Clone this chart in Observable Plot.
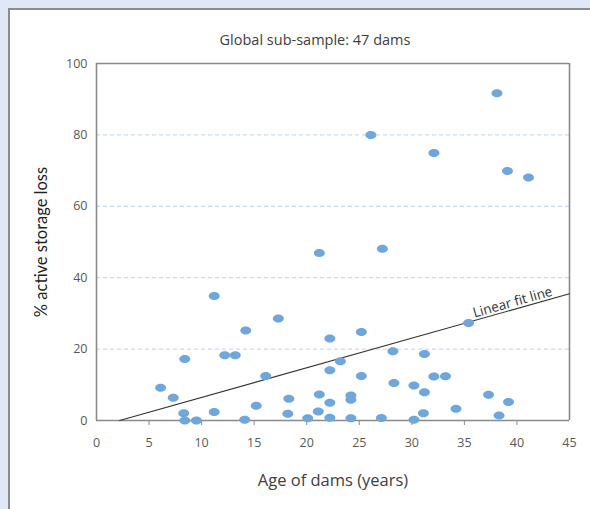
<!DOCTYPE html>
<html>
<head>
<meta charset="utf-8">
<script src="https://cdn.jsdelivr.net/npm/d3@7"></script>
<script src="https://cdn.jsdelivr.net/npm/@observablehq/plot@0.6"></script>
<style>
  html, body { margin: 0; padding: 0; width: 590px; height: 509px; overflow: hidden; background: #dfe8f4; }
  #frame { position: absolute; left: 8px; top: 8px; width: 600px; height: 520px; background: #fff;
           border-left: 2px solid #8c8c8c; border-top: 2px solid #8c8c8c; }
  #title { position: absolute; left: 0; width: 630px; top: 30px; text-align: center;
           font: 14.5px "Open Sans", sans-serif; color: #404040; }
  #chart { position: absolute; left: 0; top: 50px; }
</style>
</head>
<body>
<div id="frame"></div>
<div id="title">Global sub-sample: 47 dams</div>
<div id="chart"></div>
<script>
// Data
const ages = [
  11.2, 14.2, 12.2, 13.2, 8.4, 6.1, 7.3, 8.3, 8.4, 9.5, 11.2, 14.1, 15.2,
  17.3, 25.2, 22.2, 28.2, 23.2, 22.2, 16.1, 25.2, 28.3, 18.3, 21.2, 22.2, 24.2, 24.2, 18.2, 21.1, 20.1, 22.2, 24.2, 27.1,
  35.4, 31.2, 32.1, 33.2, 30.2, 31.2, 37.3, 39.2, 34.2, 31.1, 38.3, 30.2,
  38.1, 26.1, 32.1, 39.1, 41.1, 21.2, 27.2
];
const losses = [
  34.9, 25.2, 18.3, 18.3, 17.2, 9.2, 6.4, 2.0, 0.0, 0.0, 2.4, 0.2, 4.1,
  28.6, 24.8, 23.0, 19.4, 16.6, 14.1, 12.5, 12.5, 10.5, 6.1, 7.3, 5.0, 7.0, 5.8, 1.9, 2.5, 0.6, 0.8, 0.6, 0.7,
  27.3, 18.6, 12.3, 12.4, 9.8, 7.9, 7.2, 5.2, 3.3, 2.0, 1.4, 0.2,
  91.7, 80.0, 74.9, 69.9, 68.1, 46.9, 48.1
];
const fitAges = [2.2, 45];
const fitLosses = [0, 35.5];
const fitLabelAge = 39.7;
const xTicks = [0, 5, 10, 15, 20, 25, 30, 35, 40, 45];
const xTickMarks = [5, 10, 15, 20, 25, 30, 35, 40];
const yTicks = [0, 20, 40, 60, 80, 100];
const gridLines = [20, 40, 60, 80];
const xDomain = [0, 45];
const yDomain = [0, 100];

const points = ages.map((a, i) => ({age: a, loss: losses[i]}));
const fit = fitAges.map((a, i) => ({age: a, loss: fitLosses[i]}));
const slope = (fitLosses[1] - fitLosses[0]) / (fitAges[1] - fitAges[0]);
const labelPt = [{age: fitLabelAge, loss: fitLosses[0] + slope * (fitLabelAge - fitAges[0])}];

const W = 590, H = 459, mL = 96, mR = 21, mT = 13, mB = 89;
const pxSlope = slope * ((H - mT - mB) / (yDomain[1] - yDomain[0])) / ((W - mL - mR) / (xDomain[1] - xDomain[0]));
const angle = -Math.atan(pxSlope) * 180 / Math.PI;

const ellipse = {
  draw(ctx) {
    const rx = 5.5, ry = 4, kx = rx * 0.5523, ky = ry * 0.5523;
    ctx.moveTo(rx, 0);
    ctx.bezierCurveTo(rx, ky, kx, ry, 0, ry);
    ctx.bezierCurveTo(-kx, ry, -rx, ky, -rx, 0);
    ctx.bezierCurveTo(-rx, -ky, -kx, -ry, 0, -ry);
    ctx.bezierCurveTo(kx, -ry, rx, -ky, rx, 0);
    ctx.closePath();
  }
};

const frameColor = "#8a8a8a";
const chart = Plot.plot({
  width: W, height: H,
  marginLeft: mL, marginRight: mR, marginTop: mT, marginBottom: mB,
  style: {background: "transparent", fontFamily: "'Open Sans', sans-serif", fontSize: "12.5px", color: "#595959"},
  x: {domain: xDomain},
  y: {domain: yDomain},
  marks: [
    Plot.ruleY(gridLines, {stroke: "#bcd3ee", strokeDasharray: "4,3", strokeWidth: 1}),
    Plot.axisY({ticks: yTicks, tickSize: 0, tickPadding: 9, label: null}),
    Plot.axisY({ticks: [], label: "% active storage loss", labelAnchor: "center", labelArrow: false, labelOffset: 61,
                fontFamily: "Lato, sans-serif", fontSize: 16.5, color: "#222"}),
    Plot.axisX({ticks: xTickMarks, tickSize: 5, text: null, label: null, stroke: frameColor}),
    Plot.axisX({ticks: xTicks, tickSize: 0, tickPadding: 18, label: null}),
    Plot.axisX({ticks: [], label: "Age of dams (years)", labelAnchor: "center", labelArrow: false, labelOffset: 65,
                fontSize: 16.5, color: "#404040"}),
    Plot.ruleX([xDomain[0], xDomain[1]], {stroke: frameColor, strokeWidth: 1.6}),
    Plot.ruleY([yDomain[0], yDomain[1]], {stroke: frameColor, strokeWidth: 1.6}),
    Plot.line(fit, {x: "age", y: "loss", stroke: "#333", strokeWidth: 1.1}),
    Plot.text(labelPt, {x: "age", y: "loss", text: () => "Linear fit line", rotate: angle,
                        lineAnchor: "bottom", dy: -3, fontSize: 13.5, fill: "#333"}),
    Plot.dot(points, {x: "age", y: "loss", symbol: ellipse, fill: "#6fa7dc", stroke: "none"})
  ]
});
document.getElementById("chart").appendChild(chart);
</script>
</body>
</html>
